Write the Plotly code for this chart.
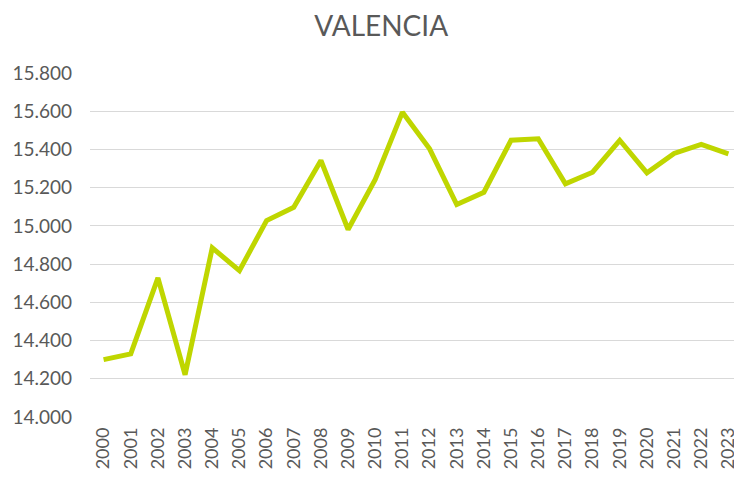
import plotly.graph_objects as go

years = [str(y) for y in range(2000, 2024)]
values = [14300, 14330, 14728, 14221, 14885, 14766, 15028, 15097, 15342, 14981,
          15243, 15595, 15403, 15112, 15176, 15448, 15456, 15220, 15281, 15448,
          15278, 15379, 15426, 15377]
y_ticks = [14000, 14200, 14400, 14600, 14800, 15000, 15200, 15400, 15600, 15800]

fig = go.Figure()

fig.add_trace(go.Scatter(
    x=years,
    y=values,
    mode='lines',
    line=dict(color='#bfd600', width=5),
    showlegend=False
))

# page body has an 8px margin, so positions are shifted back by 8px
fig.update_layout(
    title=dict(
        text="VALENCIA",
        x=0.503,
        xanchor='center',
        y=0.962,
        yanchor='middle',
        font=dict(size=28, color='#595959', family='Lato')
    ),
    width=742,
    height=478,
    margin=dict(l=82, r=8, t=65, b=69),
    separators=',.',
    paper_bgcolor='white',
    plot_bgcolor='white',
    font=dict(family='Lato', size=18, color='#595959'),
    xaxis=dict(
        type='category',
        range=[-0.5, 23.5],
        tickangle=-90,
        showgrid=False,
        showline=False,
        ticks='',
        automargin=False,
        ticklabelstandoff=6,
        tickfont=dict(size=18, color='#595959')
    ),
    yaxis=dict(
        range=[14000, 15800],
        tickvals=y_ticks,
        tickformat=',d',
        showgrid=True,
        gridcolor='#d9d9d9',
        gridwidth=1,
        zeroline=False,
        showline=False,
        ticks='',
        automargin=False,
        ticklabelstandoff=17,
        tickfont=dict(size=19, color='#595959')
    )
)

fig.write_html("out.html")
